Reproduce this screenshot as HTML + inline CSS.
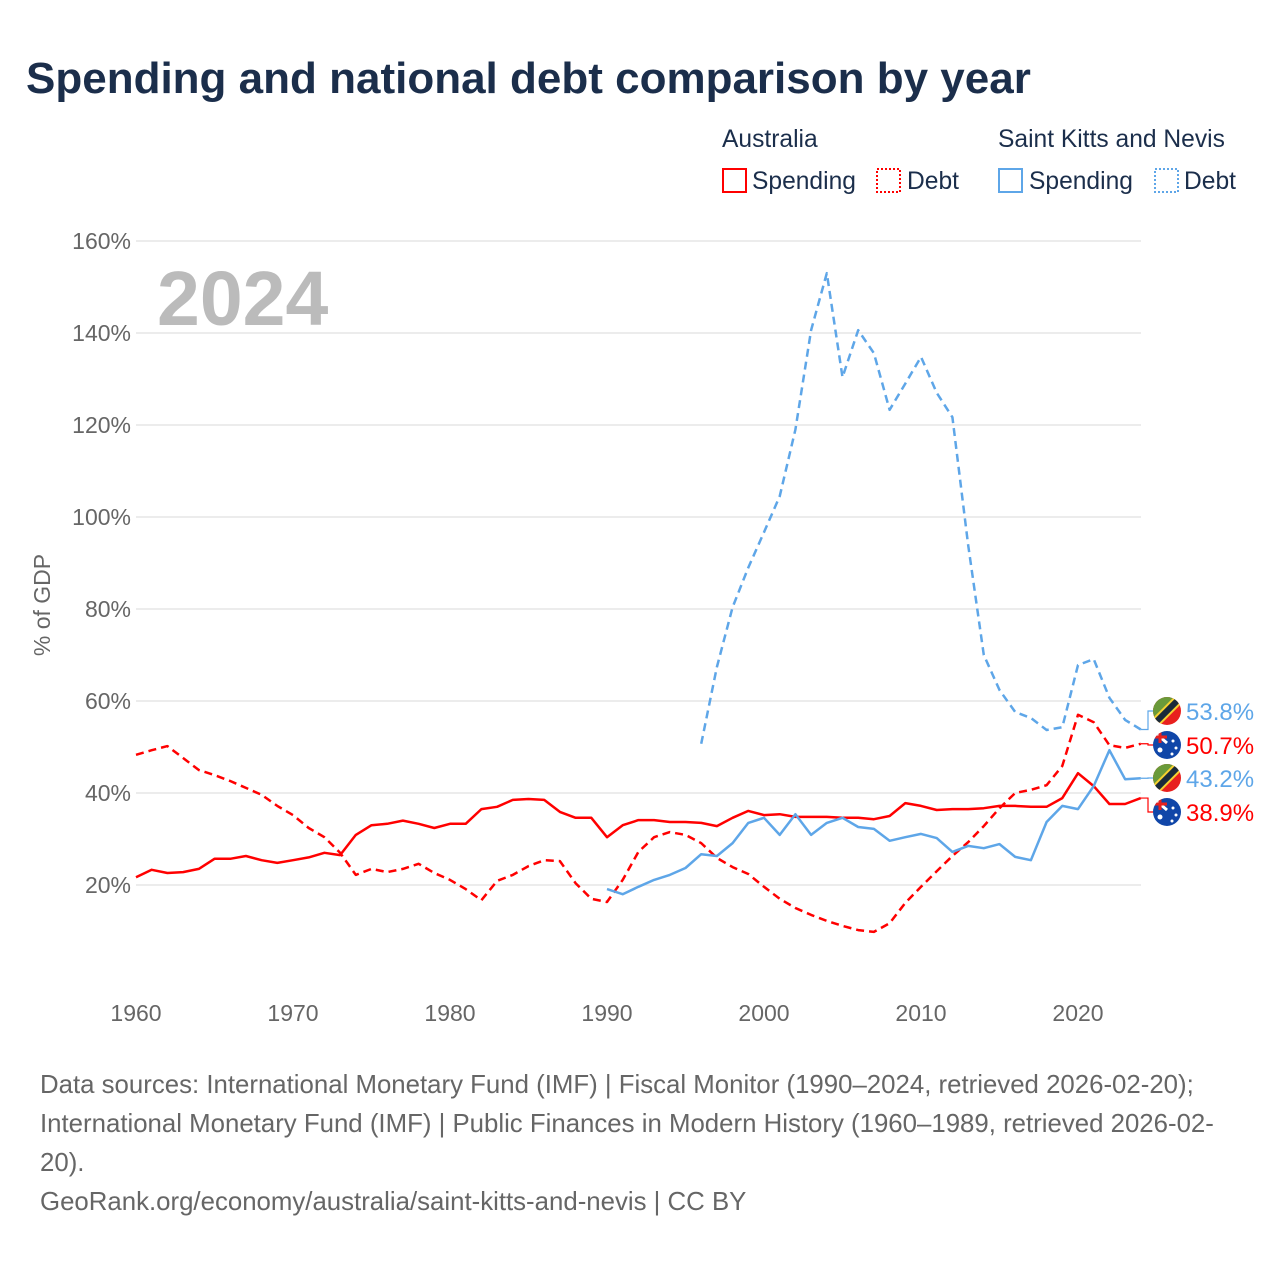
<!DOCTYPE html>
<html><head><meta charset="utf-8">
<style>
body{margin:0;background:#fff;width:1280px;height:1280px;overflow:hidden;font-family:"Liberation Sans",sans-serif}
</style></head>
<body>
<svg id="chart" width="1280" height="1280" xmlns="http://www.w3.org/2000/svg" font-family="Liberation Sans, sans-serif">
<defs>
<clipPath id="cc"><circle cx="0" cy="0" r="14"/></clipPath>
<g id="flag-skn"><g clip-path="url(#cc)"><rect x="-14" y="-14" width="28" height="28" fill="#e8201e"/><polygon points="-14,-14 14,-14 -14,14" fill="#6a9a3a"/><line x1="-16" y1="16" x2="16" y2="-16" stroke="#f5d130" stroke-width="10"/><line x1="-16" y1="16" x2="16" y2="-16" stroke="#1a2a3a" stroke-width="6"/></g></g>
<g id="flag-aus"><g clip-path="url(#cc)"><rect x="-14" y="-14" width="28" height="28" fill="#1046a8"/><line x1="-14" y1="-14" x2="0" y2="-2" stroke="#fff" stroke-width="3"/><line x1="-14" y1="-8" x2="0" y2="-8" stroke="#e8201e" stroke-width="3"/><line x1="-7" y1="-14" x2="-7" y2="-2" stroke="#e8201e" stroke-width="3"/><circle cx="-7" cy="5" r="2.5" fill="#fff"/><circle cx="6" cy="-4" r="1.5" fill="#fff"/><circle cx="9" cy="3" r="1.5" fill="#fff"/><circle cx="5" cy="9" r="1.5" fill="#fff"/></g></g>
</defs>
<text x="26" y="93" font-size="44" font-weight="bold" fill="#1b2e4b">Spending and national debt comparison by year</text>
<g font-size="24.6" fill="#1b2e4b">
<text x="722" y="147">Australia</text>
<text x="998" y="147">Saint Kitts and Nevis</text>
<g><rect x="723" y="169" width="23" height="23" fill="none" stroke="#f00" stroke-width="2"/><text x="752" y="189">Spending</text></g>
<g><rect x="877" y="169" width="23" height="23" fill="none" stroke="#f00" stroke-width="2" stroke-dasharray="2,2"/><text x="907" y="189">Debt</text></g>
<g><rect x="999" y="169" width="23" height="23" fill="none" stroke="#5ea6e8" stroke-width="2"/><text x="1029" y="189">Spending</text></g>
<g><rect x="1155" y="169" width="23" height="23" fill="none" stroke="#5ea6e8" stroke-width="2" stroke-dasharray="2,2"/><text x="1184" y="189">Debt</text></g>
</g>
<g id="grid"></g>
<g id="yticks" font-size="23" fill="#666" text-anchor="end"></g>
<g id="xticks" font-size="23" fill="#666" text-anchor="middle"></g>
<text transform="translate(50,605) rotate(-90)" text-anchor="middle" font-size="23" fill="#666">% of GDP</text>
<text x="157" y="325" font-size="77" font-weight="bold" fill="#bbb">2024</text>
<g id="series"></g>
<g id="endlabels" font-size="24"></g>
<g font-size="25.8" fill="#666">
<text x="40" y="1093">Data sources: International Monetary Fund (IMF) | Fiscal Monitor (1990–2024, retrieved 2026-02-20);</text>
<text x="40" y="1132">International Monetary Fund (IMF) | Public Finances in Modern History (1960–1989, retrieved 2026-02-</text>
<text x="40" y="1171">20).</text>
<text x="40" y="1210">GeoRank.org/economy/australia/saint-kitts-and-nevis | CC BY</text>
</g>
</svg>
<script>
const yTicks=[20,40,60,80,100,120,140,160];
const xTicks=[1960,1970,1980,1990,2000,2010,2020];
const ausSpending=[21.7,23.3,22.6,22.8,23.5,25.7,25.7,26.3,25.4,24.8,25.4,26,27,26.5,30.9,33,33.3,34,33.3,32.4,33.3,33.3,36.5,37,38.5,38.7,38.5,35.9,34.6,34.6,30.4,33,34.1,34.1,33.7,33.7,33.5,32.8,34.6,36.1,35.2,35.4,34.8,34.8,34.8,34.6,34.6,34.3,35,37.8,37.2,36.3,36.5,36.5,36.7,37.2,37.2,37,37,38.9,44.3,41.5,37.6,37.6,38.9];
const ausDebt=[48.3,49.3,50.2,47.6,45,43.9,42.6,41.1,39.6,37.2,35.2,32.4,30.4,27,22.2,23.5,22.8,23.5,24.6,22.6,21.1,19.1,16.7,20.9,22.2,24.1,25.4,25.2,20.4,17,16.3,21.1,27.2,30.4,31.5,30.9,29.1,25.9,23.9,22.4,19.6,17,15,13.5,12.2,11.1,10.2,9.8,11.7,16.1,19.6,23,26.3,29.3,32.8,36.7,40,40.7,41.7,45.9,57,55.4,50.4,49.8,50.7];
const sknSpending=[19.1,18,19.6,21.1,22.2,23.7,26.7,26.3,29.1,33.5,34.6,30.9,35.4,30.9,33.5,34.6,32.6,32.2,29.6,30.4,31.1,30.2,27.2,28.5,28,28.9,26.1,25.4,33.7,37.2,36.5,41.5,49.3,43,43.2];
const sknDebt=[50.7,67.4,80.4,89,96.7,104.5,119,140.6,153,130.4,140.6,135.6,123.3,129,134.8,127,121.7,94,70,62.4,57.6,56.3,53.7,54.3,67.8,69.1,60.7,55.9,53.8];
const NS="http://www.w3.org/2000/svg";
const X=yr=>136+(yr-1960)*15.7;
const Y=v=>977-v*4.6;
function mk(tag,attrs,parent){const e=document.createElementNS(NS,tag);for(const k in attrs)e.setAttribute(k,attrs[k]);parent.appendChild(e);return e;}
const grid=document.getElementById('grid'),yt=document.getElementById('yticks'),xt=document.getElementById('xticks');
yTicks.forEach(v=>{
  const l=mk('line',{x1:136,x2:1141,y1:Y(v),y2:Y(v),stroke:'#e6e6e6','stroke-width':1.5},grid);
  
  
  const t=mk('text',{x:131,y:Y(v)+8},yt);t.textContent=v+'%';
  
  
});
xTicks.forEach(yr=>{
  const t=mk('text',{x:X(yr),y:1021},xt);t.textContent=yr;
  
  
});
const ser=document.getElementById('series');
function line(vals,start,color,dash,name){
  const d=vals.map((v,i)=>(i?'L':'M')+X(start+i).toFixed(1)+','+Y(v).toFixed(1)).join(' ');
  const p=mk('path',{d:d,fill:'none',stroke:color,'stroke-width':2.5,'stroke-linejoin':'round'},ser);
  if(dash)p.setAttribute('stroke-dasharray','8,5');
  
  
}
line(ausSpending,1960,'#f00',false,'line-australia-spending');
line(ausDebt,1960,'#f00',true,'line-australia-debt');
line(sknSpending,1990,'#5ea6e8',false,'line-skn-spending');
line(sknDebt,1996,'#5ea6e8',true,'line-skn-debt');
const el=document.getElementById('endlabels');
const ends=[[sknDebt[sknDebt.length-1],711,'#5ea6e8','flag-skn','end-label-skn-debt'],[ausDebt[ausDebt.length-1],745,'#f00','flag-aus','end-label-aus-debt'],[sknSpending[sknSpending.length-1],778,'#5ea6e8','flag-skn','end-label-skn-spending'],[ausSpending[ausSpending.length-1],812,'#f00','flag-aus','end-label-aus-spending']];
ends.forEach(([v,ly,c,f,n])=>{
  const g=mk('g',{},el);
  
  
  mk('path',{d:`M${X(2024)},${Y(v)} H1148 V${ly} H1154`,fill:'none',stroke:c,'stroke-width':1.2},g);
  mk('use',{href:'#'+f,x:1167,y:ly},g);
  const t=mk('text',{x:1186,y:ly+9,fill:c},g);t.textContent=v.toFixed(1)+'%';
});
</script>
</body></html>
